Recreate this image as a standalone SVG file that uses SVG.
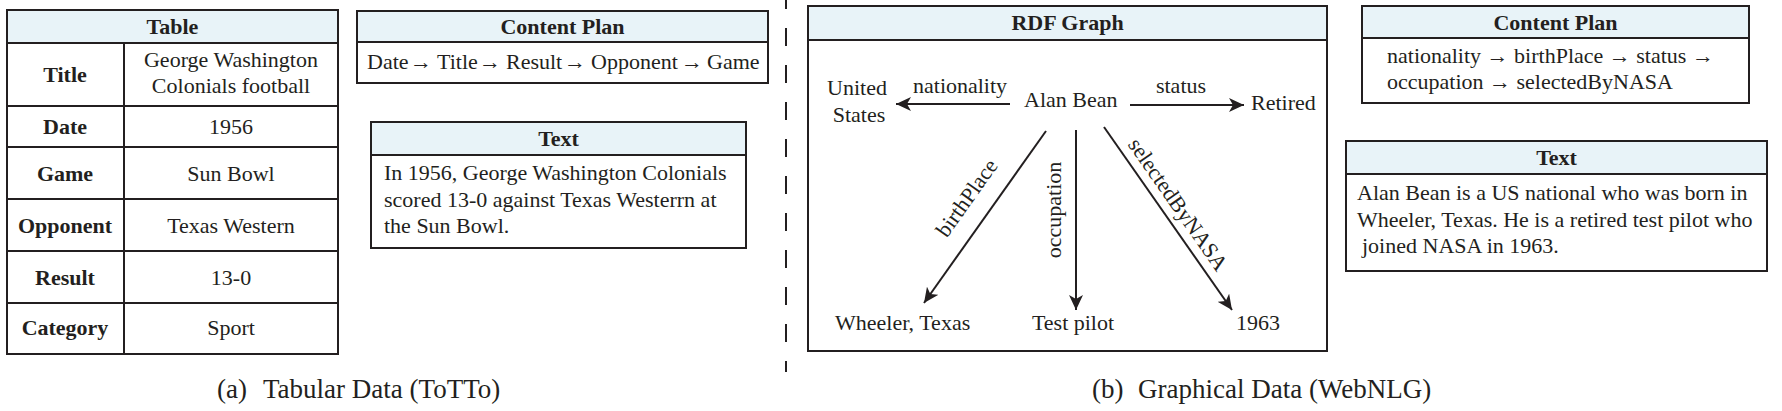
<svg xmlns="http://www.w3.org/2000/svg" width="1782" height="411" viewBox="0 0 1782 411">
<style>
text{font-family:"Liberation Serif","Times New Roman",serif;fill:#231f20}
.t{font-size:22px}
.b{font-size:22px;font-weight:bold}
.g{font-size:22px}
.c{font-size:27px}
.m{text-anchor:middle}
.hd{fill:#e8f3f8;stroke:#231f20;stroke-width:2}
.bx{fill:#fff;stroke:#231f20;stroke-width:2}
.ln{stroke:#231f20;stroke-width:2;fill:none}
.ar{stroke:#231f20;stroke-width:2;fill:none;marker-end:url(#ah)}
</style>
<defs>
<marker id="ah" markerUnits="userSpaceOnUse" markerWidth="16" markerHeight="14" refX="15" refY="7" orient="auto" viewBox="0 0 16 14">
<path d="M0,0 L15,7 L0,14 L4,7 Z" fill="#231f20"/>
</marker>
</defs>
<rect width="1782" height="411" fill="#fff"/>

<g id="table">
<rect class="bx" x="7" y="10" width="331" height="344"/>
<rect class="hd" x="7" y="10" width="331" height="33"/>
<text class="b m" x="172.5" y="34">Table</text>
<line class="ln" x1="124" y1="43" x2="124" y2="354"/>
<line class="ln" x1="7" y1="106" x2="338" y2="106"/>
<line class="ln" x1="7" y1="147" x2="338" y2="147"/>
<line class="ln" x1="7" y1="199" x2="338" y2="199"/>
<line class="ln" x1="7" y1="251" x2="338" y2="251"/>
<line class="ln" x1="7" y1="303" x2="338" y2="303"/>
<text class="b m" x="65" y="82">Title</text>
<text class="t m" x="231" y="67">George Washington</text>
<text class="t m" x="231" y="93">Colonials football</text>
<text class="b m" x="65" y="134">Date</text>
<text class="t m" x="231" y="134">1956</text>
<text class="b m" x="65" y="181">Game</text>
<text class="t m" x="231" y="181">Sun Bowl</text>
<text class="b m" x="65" y="233">Opponent</text>
<text class="t m" x="231" y="233">Texas Western</text>
<text class="b m" x="65" y="285">Result</text>
<text class="t m" x="231" y="285">13-0</text>
<text class="b m" x="65" y="335">Category</text>
<text class="t m" x="231" y="335">Sport</text>
</g>

<g id="content-plan-a">
<rect class="bx" x="357" y="11" width="411" height="72"/>
<rect class="hd" x="357" y="11" width="411" height="31"/>
<text class="b m" x="562.5" y="34">Content Plan</text>
<text class="t" y="69"><tspan x="367">Date</tspan><tspan x="410">→</tspan><tspan x="437">Title</tspan><tspan x="479">→</tspan><tspan x="506">Result</tspan><tspan x="564">→</tspan><tspan x="591">Opponent</tspan><tspan x="681">→</tspan><tspan x="707">Game</tspan></text>
</g>

<g id="text-a">
<rect class="bx" x="371" y="122" width="375" height="126"/>
<rect class="hd" x="371" y="122" width="375" height="33"/>
<text class="b m" x="558.5" y="146">Text</text>
<text class="t" x="384" y="180">In 1956, George Washington Colonials</text>
<text class="t" x="384" y="207">scored 13-0 against Texas Westerrn at</text>
<text class="t" x="384" y="233">the Sun Bowl.</text>
</g>

<line id="divider" x1="786" y1="0" x2="786" y2="372" stroke="#231f20" stroke-width="2" stroke-dasharray="18 19" stroke-dashoffset="9"/>

<g id="rdf-graph">
<rect class="bx" x="808" y="6" width="519" height="345"/>
<rect class="hd" x="808" y="6" width="519" height="34"/>
<text class="b m" x="1067.5" y="30">RDF Graph</text>
</g>

<g id="connectors">
<line class="ar" x1="1010" y1="104" x2="896" y2="104"/>
<line class="ar" x1="1130" y1="105" x2="1244" y2="105"/>
<line class="ar" x1="1046" y1="131" x2="924" y2="303"/>
<line class="ar" x1="1076" y1="130" x2="1076" y2="310"/>
<line class="ar" x1="1104" y1="127" x2="1232" y2="310"/>
<text class="g" x="913" y="93">nationality</text>
<text class="g m" x="1181" y="93">status</text>
<text class="g m" transform="translate(967,198) rotate(-54.6)" x="0" y="7">birthPlace</text>
<text class="g m" transform="translate(1055,210) rotate(-90)" x="0" y="6">occupation</text>
<text class="g m" transform="translate(1177,205) rotate(55)" x="0" y="6">selectedByNASA</text>
</g>

<g id="node-alan-bean"><text class="g" x="1024" y="107">Alan Bean</text></g>
<g id="node-united-states"><text class="g m" x="857" y="95">United</text><text class="g m" x="859" y="122">States</text></g>
<g id="node-retired"><text class="g" x="1251" y="110">Retired</text></g>
<g id="node-wheeler"><text class="g" x="835" y="330">Wheeler, Texas</text></g>
<g id="node-test-pilot"><text class="g m" x="1073" y="330">Test pilot</text></g>
<g id="node-1963"><text class="g" x="1236" y="330">1963</text></g>

<g id="content-plan-b">
<rect class="bx" x="1362" y="6" width="387" height="97"/>
<rect class="hd" x="1362" y="6" width="387" height="32"/>
<text class="b m" x="1555.5" y="30">Content Plan</text>
<text class="t" x="1387" y="63">nationality → birthPlace → status →</text>
<text class="t" x="1387" y="89">occupation → selectedByNASA</text>
</g>

<g id="text-b">
<rect class="bx" x="1346" y="141" width="421" height="130"/>
<rect class="hd" x="1346" y="141" width="421" height="33"/>
<text class="b m" x="1556.5" y="165">Text</text>
<text class="t" x="1357" y="200">Alan Bean is a US national who was born in</text>
<text class="t" x="1357" y="227">Wheeler, Texas. He is a retired test pilot who</text>
<text class="t" x="1362" y="253">joined NASA in 1963.</text>
</g>

<g id="captions">
<text class="c"><tspan x="217" y="398">(a)</tspan><tspan x="263" y="398">Tabular Data (ToTTo)</tspan></text>
<text class="c"><tspan x="1092" y="398">(b)</tspan><tspan x="1138" y="398">Graphical Data (WebNLG)</tspan></text>
</g>
</svg>
